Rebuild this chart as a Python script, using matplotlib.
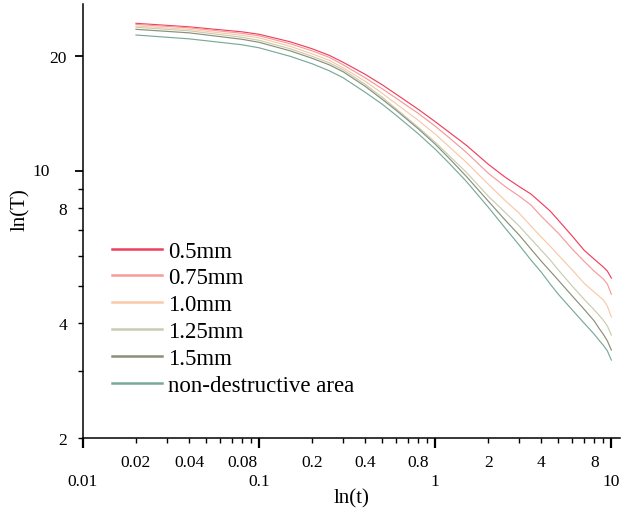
import numpy as np
import matplotlib
matplotlib.use("Agg")
import matplotlib.pyplot as plt
from matplotlib.ticker import FixedLocator, FuncFormatter

plt.rcParams['font.family'] = ['Liberation Serif', 'DejaVu Serif']

# time values (x)
t = [0.02, 0.04, 0.08, 0.1, 0.15, 0.2, 0.25, 0.3, 0.4, 0.5, 0.6, 0.8, 1.0, 1.2, 1.5,
     2, 2.5, 3, 3.5, 4, 4.5, 5, 6, 7, 8, 8.5, 9, 9.5, 10]

T_05 = [24.40, 23.89, 23.18, 22.84, 21.83, 20.93, 20.12, 19.29, 17.94, 16.84, 15.91,
        14.53, 13.48, 12.65, 11.70, 10.43, 9.64, 9.11, 8.71, 8.25, 7.86, 7.44,
        6.76, 6.21, 5.88, 5.74, 5.61, 5.47, 5.25]
T_075 = [24.25, 23.75, 22.97, 22.63, 21.57, 20.67, 19.88, 19.00, 17.57, 16.44, 15.53,
         14.18, 13.12, 12.24, 11.21, 9.88, 9.11, 8.60, 8.15, 7.62, 7.22, 6.88,
         6.25, 5.81, 5.47, 5.34, 5.22, 5.06, 4.76]
T_10 = [24.01, 23.53, 22.70, 22.36, 21.24, 20.30, 19.52, 18.66, 17.20, 16.00, 15.02,
        13.60, 12.50, 11.59, 10.56, 9.25, 8.37, 7.76, 7.18, 6.72, 6.36, 6.03,
        5.51, 5.09, 4.82, 4.71, 4.60, 4.43, 4.15]
T_125 = [23.82, 23.32, 22.43, 22.02, 20.93, 20.00, 19.23, 18.44, 16.89, 15.62, 14.57,
         13.04, 11.91, 10.98, 9.94, 8.60, 7.79, 7.18, 6.64, 6.21, 5.85, 5.51,
         5.00, 4.62, 4.33, 4.20, 4.07, 3.93, 3.72]
T_15 = [23.53, 23.04, 22.16, 21.76, 20.67, 19.76, 19.00, 18.22, 16.69, 15.43, 14.44,
        12.92, 11.77, 10.81, 9.70, 8.35, 7.44, 6.80, 6.25, 5.81, 5.47, 5.18,
        4.71, 4.35, 4.05, 3.88, 3.74, 3.59, 3.40]
T_nd = [22.74, 22.22, 21.44, 21.05, 20.00, 19.12, 18.33, 17.57, 16.10, 14.98, 14.01,
        12.54, 11.42, 10.49, 9.41, 8.05, 7.09, 6.40, 5.85, 5.44, 5.06, 4.76,
        4.33, 4.00, 3.74, 3.61, 3.50, 3.38, 3.20]

labels = ['0.5mm', '0.75mm', '1.0mm', '1.25mm', '1.5mm', 'non-destructive area']
colors = ['#f0405f', '#f49c9c', '#f9c9a8', '#c9ccb0', '#8a9078', '#79aa98']
series = [T_05, T_075, T_10, T_125, T_15, T_nd]

x_major = [0.01, 0.1, 1, 10]
x_minor_labels = [0.02, 0.04, 0.08, 0.2, 0.4, 0.8, 2, 4, 8]
y_labels = [2, 4, 8, 20]

fig = plt.figure(figsize=(6.22, 5.10), dpi=100)
ax = fig.add_axes([0.1334, 0.1392, 0.8634, 0.8508])

for vals, lab, c in zip(series, labels, colors):
    ax.plot(t, vals, color=c, lw=0.85, label=lab)

ax.set_xscale('log')
ax.set_yscale('log')
ax.set_xlim(0.01, 11.2)
ax.set_ylim(2, 27.4)

for s in ['top', 'right']:
    ax.spines[s].set_visible(False)
for s in ['left', 'bottom']:
    ax.spines[s].set_linewidth(1.1)

# x ticks
ax.xaxis.set_major_locator(FixedLocator(x_major))
ax.xaxis.set_major_formatter(FuncFormatter(lambda v, p: ('%g' % v)))
minors = [m * d for d in [0.01, 0.1, 1] for m in range(2, 10)]
ax.xaxis.set_minor_locator(FixedLocator(minors))
ax.xaxis.set_minor_formatter(FuncFormatter(
    lambda v, p: ('%g' % v) if any(abs(v - q) < 1e-9 for q in x_minor_labels) else ''))
ax.tick_params(axis='x', which='major', direction='out', length=7, width=1.6,
               pad=18, labelsize=12.5)
ax.tick_params(axis='x', which='minor', direction='out', length=3.5, width=1.0,
               pad=8, labelsize=12.5)

# y ticks
ax.yaxis.set_major_locator(FixedLocator([10, 20]))
ax.yaxis.set_major_formatter(FuncFormatter(lambda v, p: '20' if abs(v - 20) < 1e-9 else ''))
ax.yaxis.set_minor_locator(FixedLocator(list(range(2, 10))))
ax.yaxis.set_minor_formatter(FuncFormatter(
    lambda v, p: ('%g' % v) if any(abs(v - q) < 1e-9 for q in y_labels) else ''))
ax.tick_params(axis='y', which='major', direction='out', length=6, width=1.3,
               pad=5.5, labelsize=12.5)
ax.tick_params(axis='y', which='minor', direction='out', length=3.5, width=1.0,
               pad=8, labelsize=12.5)
# the "10" label sits further left in the original
ax.text(-0.0615, 10, '10', transform=ax.get_yaxis_transform(), ha='right',
        va='center', fontsize=12.5)

ax.set_xlabel('ln(t)', fontsize=15, labelpad=0)
ax.set_ylabel('ln(T)', fontsize=15)
ax.yaxis.set_label_coords(-0.099, 0.528)

leg = ax.legend(loc='upper left', bbox_to_anchor=(0.037, 0.476), frameon=False,
                fontsize=16.5, handlelength=2.18, handletextpad=0.26, labelspacing=0.25,
                borderaxespad=0)
for ln in leg.get_lines():
    ln.set_linewidth(1.8)

fig.savefig('out.png', dpi=100)
